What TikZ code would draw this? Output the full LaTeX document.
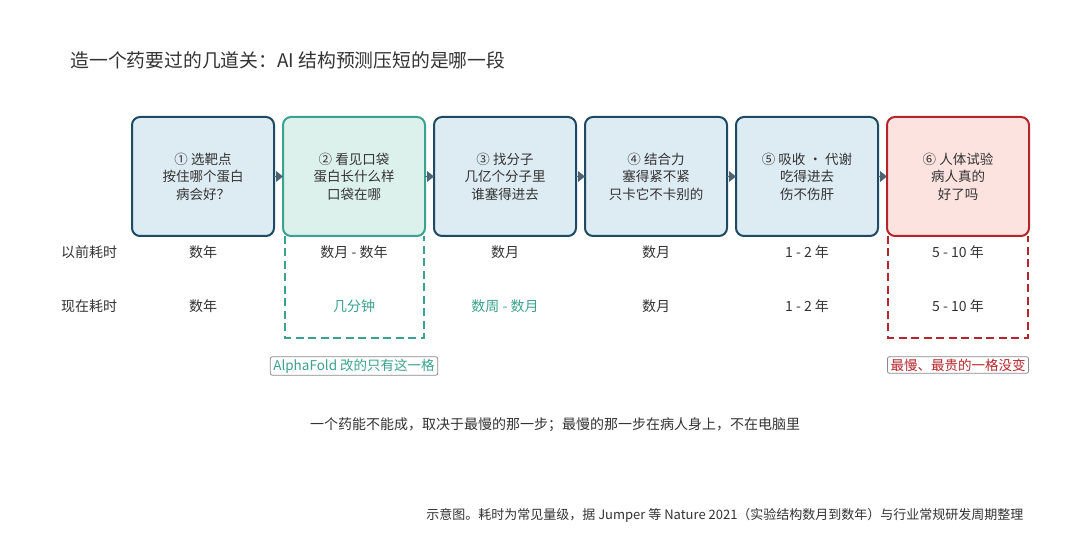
\documentclass[tikz,border=0pt]{standalone}
\usepackage{fontspec}
\setmainfont{Noto Sans CJK SC}
\usetikzlibrary{positioning, arrows.meta}

\definecolor{boxfill}{HTML}{DDEBF2}
\definecolor{boxline}{HTML}{1E4A66}
\definecolor{tealfill}{HTML}{DDF1EC}
\definecolor{tealline}{HTML}{3AA28F}
\definecolor{redfill}{HTML}{FCE3E0}
\definecolor{redline}{HTML}{B5262C}
\definecolor{textdark}{HTML}{333333}
\definecolor{arrowgray}{HTML}{4B6373}
\definecolor{notegray}{HTML}{8A8A8A}

\tikzset{
    stage/.style={draw=boxline, fill=boxfill, line width=2pt, rounded corners=8pt, minimum width=142pt, minimum height=119pt, outer sep=0pt, align=center, text=textdark, font=\fontsize{13.5}{17.5}\selectfont},
    cell/.style={text=textdark, font=\fontsize{14}{16}\selectfont},
    flow/.style={-{Triangle[length=7pt, width=11pt]}, draw=arrowgray, fill=arrowgray, line width=0pt},
    column/.style={dashed, line width=2.5pt, dash pattern=on 8pt off 4.5pt},
    note/.style={draw=notegray, rounded corners=2pt, line width=0.8pt, inner xsep=3pt, inner ysep=2pt, font=\fontsize{13.5}{15}\selectfont}
}

\begin{document}
\begin{tikzpicture}[x=1pt, y=1pt]
    \useasboundingbox [fill=white] (0,0) rectangle (1080,-540);

    \node (title) [anchor=west, text=textdark, font=\fontsize{18.8}{22}\selectfont] at (67,-60) {造一个药要过的几道关：AI 结构预测压短的是哪一段};

    % stages
    \node (s1) [stage] at (203,-176.5) {① 选靶点\\按住哪个蛋白\\病会好？};
    \node (s2) [stage, draw=tealline, fill=tealfill, right=9pt of s1] {② 看见口袋\\蛋白长什么样\\口袋在哪};
    \node (s3) [stage, right=9pt of s2] {③ 找分子\\几亿个分子里\\谁塞得进去};
    \node (s4) [stage, right=9pt of s3] {④ 结合力\\塞得紧不紧\\只卡它不卡别的};
    \node (s5) [stage, right=9pt of s4] {⑤ 吸收 · 代谢\\吃得进去\\伤不伤肝};
    \node (s6) [stage, draw=redline, fill=redfill, right=9pt of s5] {⑥ 人体试验\\病人真的\\好了吗};

    \draw [flow] (s1.east) -- (s2.west);
    \draw [flow] (s2.east) -- (s3.west);
    \draw [flow] (s3.east) -- (s4.west);
    \draw [flow] (s4.east) -- (s5.west);
    \draw [flow] (s5.east) -- (s6.west);

    % rows
    \node (before) [cell] at (89,-252) {以前耗时};
    \node (now) [cell] at (89,-306) {现在耗时};

    \node (b1) [cell] at (s1 |- before) {数年};
    \node (b2) [cell] at (s2 |- before) {数月 - 数年};
    \node (b3) [cell] at (s3 |- before) {数月};
    \node (b4) [cell] at (s4 |- before) {数月};
    \node (b5) [cell] at (s5 |- before) {1 - 2 年};
    \node (b6) [cell] at (s6 |- before) {5 - 10 年};

    \node (n1) [cell] at (s1 |- now) {数年};
    \node (n2) [cell, text=tealline] at (s2 |- now) {几分钟};
    \node (n3) [cell, text=tealline] at (s3 |- now) {数周 - 数月};
    \node (n4) [cell] at (s4 |- now) {数月};
    \node (n5) [cell] at (s5 |- now) {1 - 2 年};
    \node (n6) [cell] at (s6 |- now) {5 - 10 年};

    % highlighted columns
    \draw [column, tealline] ([xshift=2pt]s2.south west) -- ++(0,-102) -| ([xshift=-1pt]s2.south east);
    \draw [column, redline] ([xshift=1pt]s6.south west) -- ++(0,-102) -| ([xshift=-1pt]s6.south east);

    \node (alpha) [note, text=tealline] at (354,-366) {AlphaFold 改的只有这一格};
    \node (slow) [note, text=redline] at (958,-365) {最慢、最贵的一格没变};

    \node (moral) [text=textdark, font=\fontsize{14}{16}\selectfont] at (555,-425) {一个药能不能成，取决于最慢的那一步；最慢的那一步在病人身上，不在电脑里};
    \node (source) [anchor=east, text=textdark, font=\fontsize{13}{15}\selectfont] at (1027,-515) {示意图。耗时为常见量级，据 Jumper 等 Nature 2021（实验结构数月到数年）与行业常规研发周期整理};
\end{tikzpicture}
\end{document}
